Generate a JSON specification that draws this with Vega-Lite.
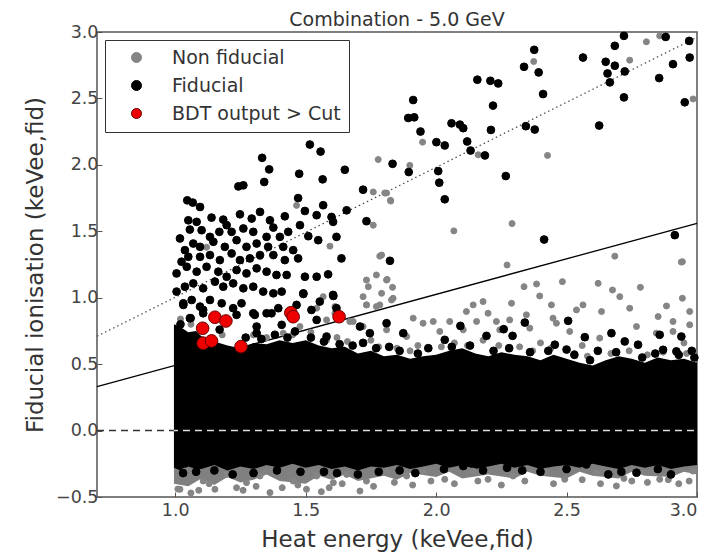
{
  "$schema": "https://vega.github.io/schema/vega-lite/v6.json",
  "width": 600,
  "height": 465,
  "autosize": {"type": "none"},
  "padding": {"left": 97, "top": 32, "right": 18, "bottom": 55},
  "background": "white",
  "title": {"text": "Combination - 5.0 GeV", "fontSize": 19, "font": "DejaVu Sans", "fontWeight": "normal", "color": "#333", "offset": -7},
  "config": {
    "view": {"stroke": "#555", "strokeWidth": 1.5},
    "axis": {"grid": false, "domain": false, "labelFont": "DejaVu Sans", "titleFont": "DejaVu Sans", "labelFontSize": 17.5, "titleFontSize": 23, "labelColor": "#444", "titleColor": "#333", "titleFontWeight": "normal", "tickColor": "#555", "tickSize": -5}
  },
  "datasets": {
    "band": [
      {"x":0.995,"hi":0.80,"lo":-0.28,"k":"F"},{"x":1.02,"hi":0.78,"lo":-0.30,"k":"F"},{"x":1.05,"hi":0.74,"lo":-0.27,"k":"F"},{"x":1.08,"hi":0.75,"lo":-0.29,"k":"F"},{"x":1.10,"hi":0.71,"lo":-0.29,"k":"F"},{"x":1.15,"hi":0.67,"lo":-0.26,"k":"F"},{"x":1.20,"hi":0.64,"lo":-0.30,"k":"F"},{"x":1.25,"hi":0.62,"lo":-0.27,"k":"F"},{"x":1.30,"hi":0.66,"lo":-0.29,"k":"F"},{"x":1.35,"hi":0.65,"lo":-0.26,"k":"F"},{"x":1.40,"hi":0.68,"lo":-0.28,"k":"F"},{"x":1.45,"hi":0.66,"lo":-0.25,"k":"F"},{"x":1.50,"hi":0.68,"lo":-0.28,"k":"F"},{"x":1.55,"hi":0.64,"lo":-0.26,"k":"F"},{"x":1.60,"hi":0.62,"lo":-0.29,"k":"F"},{"x":1.65,"hi":0.63,"lo":-0.27,"k":"F"},{"x":1.70,"hi":0.58,"lo":-0.30,"k":"F"},{"x":1.75,"hi":0.60,"lo":-0.27,"k":"F"},{"x":1.80,"hi":0.56,"lo":-0.28,"k":"F"},{"x":1.85,"hi":0.57,"lo":-0.26,"k":"F"},{"x":1.90,"hi":0.54,"lo":-0.29,"k":"F"},{"x":1.95,"hi":0.56,"lo":-0.27,"k":"F"},{"x":2.00,"hi":0.57,"lo":-0.25,"k":"F"},{"x":2.05,"hi":0.60,"lo":-0.28,"k":"F"},{"x":2.10,"hi":0.62,"lo":-0.26,"k":"F"},{"x":2.15,"hi":0.58,"lo":-0.29,"k":"F"},{"x":2.20,"hi":0.56,"lo":-0.27,"k":"F"},{"x":2.25,"hi":0.59,"lo":-0.25,"k":"F"},{"x":2.30,"hi":0.57,"lo":-0.28,"k":"F"},{"x":2.35,"hi":0.56,"lo":-0.26,"k":"F"},{"x":2.40,"hi":0.53,"lo":-0.29,"k":"F"},{"x":2.45,"hi":0.57,"lo":-0.27,"k":"F"},{"x":2.50,"hi":0.54,"lo":-0.26,"k":"F"},{"x":2.55,"hi":0.51,"lo":-0.28,"k":"F"},{"x":2.60,"hi":0.49,"lo":-0.25,"k":"F"},{"x":2.65,"hi":0.53,"lo":-0.27,"k":"F"},{"x":2.70,"hi":0.56,"lo":-0.29,"k":"F"},{"x":2.75,"hi":0.54,"lo":-0.26,"k":"F"},{"x":2.80,"hi":0.51,"lo":-0.28,"k":"F"},{"x":2.85,"hi":0.55,"lo":-0.26,"k":"F"},{"x":2.90,"hi":0.53,"lo":-0.29,"k":"F"},{"x":2.95,"hi":0.54,"lo":-0.27,"k":"F"},{"x":3.00,"hi":0.51,"lo":-0.26,"k":"F"},
      {"x":0.995,"hi":0.78,"lo":-0.40,"k":"N"},{"x":1.05,"hi":0.72,"lo":-0.42,"k":"N"},{"x":1.10,"hi":0.69,"lo":-0.36,"k":"N"},{"x":1.15,"hi":0.65,"lo":-0.41,"k":"N"},{"x":1.20,"hi":0.62,"lo":-0.35,"k":"N"},{"x":1.25,"hi":0.60,"lo":-0.39,"k":"N"},{"x":1.30,"hi":0.62,"lo":-0.37,"k":"N"},{"x":1.35,"hi":0.62,"lo":-0.33,"k":"N"},{"x":1.40,"hi":0.64,"lo":-0.38,"k":"N"},{"x":1.50,"hi":0.64,"lo":-0.40,"k":"N"},{"x":1.55,"hi":0.62,"lo":-0.34,"k":"N"},{"x":1.60,"hi":0.60,"lo":-0.37,"k":"N"},{"x":1.65,"hi":0.60,"lo":-0.33,"k":"N"},{"x":1.70,"hi":0.56,"lo":-0.38,"k":"N"},{"x":1.80,"hi":0.54,"lo":-0.34,"k":"N"},{"x":1.85,"hi":0.55,"lo":-0.37,"k":"N"},{"x":1.90,"hi":0.52,"lo":-0.32,"k":"N"},{"x":2.00,"hi":0.55,"lo":-0.35,"k":"N"},{"x":2.05,"hi":0.58,"lo":-0.31,"k":"N"},{"x":2.10,"hi":0.60,"lo":-0.36,"k":"N"},{"x":2.20,"hi":0.54,"lo":-0.33,"k":"N"},{"x":2.30,"hi":0.55,"lo":-0.36,"k":"N"},{"x":2.35,"hi":0.54,"lo":-0.31,"k":"N"},{"x":2.40,"hi":0.51,"lo":-0.34,"k":"N"},{"x":2.50,"hi":0.52,"lo":-0.36,"k":"N"},{"x":2.55,"hi":0.49,"lo":-0.31,"k":"N"},{"x":2.60,"hi":0.47,"lo":-0.34,"k":"N"},{"x":2.70,"hi":0.54,"lo":-0.36,"k":"N"},{"x":2.75,"hi":0.52,"lo":-0.31,"k":"N"},{"x":2.80,"hi":0.49,"lo":-0.34,"k":"N"},{"x":2.90,"hi":0.51,"lo":-0.35,"k":"N"},{"x":2.95,"hi":0.52,"lo":-0.31,"k":"N"},{"x":3.00,"hi":0.49,"lo":-0.33,"k":"N"}
    ],
    "lines": [
      {"x":0.7,"y":0.71,"l":"dot"},{"x":3.0,"y":2.96,"l":"dot"},
      {"x":0.7,"y":0.33,"l":"solid"},{"x":3.0,"y":1.56,"l":"solid"},
      {"x":0.7,"y":0,"l":"zk"},{"x":0.995,"y":0,"l":"zk"},
      {"x":0.995,"y":0,"l":"zw"},{"x":3.0,"y":0,"l":"zw"}
    ],
    "pts": [
      {"x":1.778,"y":2.04,"c":"N"},{"x":1.759,"y":1.796,"c":"N"},{"x":1.803,"y":1.788,"c":"N"},{"x":1.826,"y":1.728,"c":"N"},{"x":1.759,"y":1.546,"c":"N"},{"x":1.791,"y":1.321,"c":"N"},{"x":1.771,"y":1.171,"c":"N"},{"x":1.810,"y":1.133,"c":"N"},{"x":1.733,"y":1.133,"c":"N"},{"x":1.740,"y":1.083,"c":"N"},{"x":1.733,"y":0.946,"c":"N"},{"x":1.791,"y":1.033,"c":"N"},{"x":1.829,"y":0.983,"c":"N"},{"x":1.771,"y":0.933,"c":"N"},{"x":1.593,"y":1.388,"c":"N"},{"x":1.580,"y":0.833,"c":"N"},{"x":1.682,"y":0.821,"c":"N"},{"x":1.612,"y":0.883,"c":"N"},{"x":1.12,"y":1.38,"c":"N"},{"x":1.325,"y":1.308,"c":"N"},{"x":1.465,"y":1.695,"c":"N"},
      {"x":2.806,"y":2.926,"c":"N"},{"x":2.857,"y":2.971,"c":"N"},{"x":2.742,"y":2.788,"c":"N"},{"x":2.374,"y":2.778,"c":"N"},{"x":1.948,"y":2.171,"c":"N"},{"x":1.899,"y":1.996,"c":"N"},{"x":2.161,"y":2.076,"c":"N"},{"x":2.427,"y":2.071,"c":"N"},{"x":1.810,"y":1.788,"c":"N"},{"x":1.825,"y":1.733,"c":"N"},{"x":2.068,"y":1.503,"c":"N"},{"x":2.291,"y":1.558,"c":"N"},{"x":2.272,"y":1.246,"c":"N"},{"x":2.685,"y":1.313,"c":"N"},{"x":2.944,"y":1.271,"c":"N"},{"x":1.784,"y":1.313,"c":"N"},{"x":1.812,"y":1.138,"c":"N"},{"x":1.833,"y":1.078,"c":"N"},{"x":2.337,"y":1.083,"c":"N"},{"x":2.385,"y":1.103,"c":"N"},{"x":2.484,"y":1.121,"c":"N"},{"x":2.621,"y":1.108,"c":"N"},{"x":2.676,"y":1.058,"c":"N"},{"x":2.783,"y":1.078,"c":"N"},{"x":2.397,"y":1.013,"c":"N"},{"x":2.704,"y":1.008,"c":"N"},{"x":2.944,"y":0.996,"c":"N"},{"x":2.985,"y":2.496,"c":"N"},
      {"x":2.940,"y":1.268,"c":"N"},{"x":2.142,"y":0.946,"c":"N"},{"x":2.180,"y":0.971,"c":"N"},{"x":2.289,"y":0.958,"c":"N"},{"x":2.442,"y":0.946,"c":"N"},{"x":2.563,"y":0.946,"c":"N"},{"x":2.634,"y":0.896,"c":"N"},{"x":2.742,"y":0.921,"c":"N"},{"x":2.883,"y":0.938,"c":"N"},{"x":2.972,"y":0.896,"c":"N"},{"x":2.116,"y":0.896,"c":"N"},{"x":2.199,"y":0.883,"c":"N"},{"x":2.346,"y":0.871,"c":"N"},{"x":2.538,"y":0.908,"c":"N"},{"x":1.989,"y":0.821,"c":"N"},{"x":2.052,"y":0.821,"c":"N"},{"x":2.155,"y":0.821,"c":"N"},{"x":2.231,"y":0.821,"c":"N"},{"x":2.282,"y":0.833,"c":"N"},{"x":2.448,"y":0.846,"c":"N"},{"x":2.461,"y":0.808,"c":"N"},{"x":2.851,"y":0.858,"c":"N"},{"x":2.908,"y":0.821,"c":"N"},{"x":2.972,"y":0.796,"c":"N"},{"x":2.014,"y":0.746,"c":"N"},{"x":2.104,"y":0.758,"c":"N"},{"x":2.244,"y":0.758,"c":"N"},{"x":2.359,"y":0.771,"c":"N"},{"x":2.512,"y":0.746,"c":"N"},{"x":2.627,"y":0.696,"c":"N"},{"x":2.768,"y":0.783,"c":"N"},{"x":2.844,"y":0.733,"c":"N"},{"x":2.908,"y":0.746,"c":"N"},{"x":2.18,"y":0.68,"c":"N"},{"x":2.40,"y":0.66,"c":"N"},{"x":2.56,"y":0.64,"c":"N"},{"x":2.95,"y":0.66,"c":"N"},
      {"x":1.02,"y":0.84,"c":"N"},{"x":1.06,"y":0.80,"c":"N"},{"x":1.18,"y":0.72,"c":"N"},{"x":1.35,"y":0.70,"c":"N"},{"x":1.45,"y":0.72,"c":"N"},{"x":1.52,"y":0.74,"c":"N"},{"x":1.58,"y":0.68,"c":"N"},{"x":1.66,"y":0.67,"c":"N"},{"x":1.78,"y":0.63,"c":"N"},{"x":1.85,"y":0.62,"c":"N"},{"x":1.90,"y":0.60,"c":"N"},{"x":2.02,"y":0.63,"c":"N"},{"x":2.07,"y":0.66,"c":"N"},{"x":2.12,"y":0.64,"c":"N"},{"x":2.24,"y":0.64,"c":"N"},{"x":2.32,"y":0.63,"c":"N"},{"x":2.37,"y":0.60,"c":"N"},{"x":2.44,"y":0.62,"c":"N"},{"x":2.53,"y":0.58,"c":"N"},{"x":2.58,"y":0.56,"c":"N"},{"x":2.67,"y":0.58,"c":"N"},{"x":2.74,"y":0.60,"c":"N"},{"x":2.81,"y":0.57,"c":"N"},{"x":2.87,"y":0.59,"c":"N"},{"x":2.96,"y":0.58,"c":"N"},
      {"x":2.199,"y":-0.367,"c":"N"},{"x":2.493,"y":-0.367,"c":"N"},{"x":2.691,"y":-0.417,"c":"N"},{"x":2.857,"y":-0.367,"c":"N"},{"x":2.033,"y":-0.367,"c":"N"},{"x":2.295,"y":-0.342,"c":"N"},{"x":2.614,"y":-0.317,"c":"N"},{"x":2.985,"y":-0.305,"c":"N"},{"x":2.142,"y":-0.305,"c":"N"},{"x":2.423,"y":-0.305,"c":"N"},{"x":2.75,"y":-0.38,"c":"N"},{"x":2.93,"y":-0.40,"c":"N"},
      {"x":1.037,"y":-0.305,"c":"N"},{"x":1.107,"y":-0.380,"c":"N"},{"x":1.197,"y":-0.330,"c":"N"},{"x":1.273,"y":-0.392,"c":"N"},{"x":1.325,"y":-0.342,"c":"N"},{"x":1.382,"y":-0.305,"c":"N"},{"x":1.452,"y":-0.380,"c":"N"},{"x":1.503,"y":-0.442,"c":"N"},{"x":1.542,"y":-0.342,"c":"N"},{"x":1.606,"y":-0.392,"c":"N"},{"x":1.657,"y":-0.330,"c":"N"},{"x":1.733,"y":-0.380,"c":"N"},{"x":1.810,"y":-0.305,"c":"N"},{"x":1.887,"y":-0.342,"c":"N"},{"x":1.950,"y":-0.305,"c":"N"},{"x":1.018,"y":-0.442,"c":"N"},{"x":1.363,"y":-0.467,"c":"N"},{"x":1.708,"y":-0.455,"c":"N"},{"x":1.152,"y":-0.442,"c":"N"},{"x":1.235,"y":-0.430,"c":"N"},{"x":1.06,"y":-0.47,"c":"N"},{"x":1.56,"y":-0.46,"c":"N"},
      {"x":1.01,"y":-0.44,"c":"N"},{"x":1.09,"y":-0.45,"c":"N"},{"x":1.13,"y":-0.40,"c":"N"},{"x":1.26,"y":-0.45,"c":"N"},{"x":1.31,"y":-0.42,"c":"N"},{"x":1.41,"y":-0.43,"c":"N"},{"x":1.47,"y":-0.41,"c":"N"},{"x":1.59,"y":-0.43,"c":"N"},{"x":1.64,"y":-0.40,"c":"N"},{"x":1.76,"y":-0.42,"c":"N"},{"x":1.84,"y":-0.39,"c":"N"},{"x":1.91,"y":-0.41,"c":"N"},{"x":1.98,"y":-0.38,"c":"N"},{"x":2.07,"y":-0.40,"c":"N"},{"x":2.16,"y":-0.38,"c":"N"},{"x":2.25,"y":-0.41,"c":"N"},{"x":2.34,"y":-0.38,"c":"N"},{"x":2.45,"y":-0.40,"c":"N"},{"x":2.56,"y":-0.37,"c":"N"},{"x":2.63,"y":-0.40,"c":"N"},{"x":2.72,"y":-0.36,"c":"N"},{"x":2.81,"y":-0.39,"c":"N"},{"x":2.89,"y":-0.37,"c":"N"},{"x":2.97,"y":-0.38,"c":"N"},
      {"x":1.567,"y":1.008,"c":"N"},{"x":1.606,"y":1.020,"c":"N"},{"x":1.720,"y":1.008,"c":"N"},{"x":1.784,"y":0.946,"c":"N"},{"x":1.835,"y":0.996,"c":"N"},{"x":1.733,"y":0.946,"c":"N"},{"x":1.542,"y":0.921,"c":"N"},{"x":1.612,"y":0.933,"c":"N"},{"x":1.669,"y":0.821,"c":"N"},{"x":1.912,"y":0.846,"c":"N"},{"x":1.950,"y":0.808,"c":"N"},{"x":1.720,"y":0.783,"c":"N"},{"x":1.810,"y":0.758,"c":"N"},{"x":1.478,"y":0.783,"c":"N"},{"x":1.414,"y":0.733,"c":"N"},{"x":1.887,"y":0.708,"c":"N"},{"x":1.350,"y":0.883,"c":"N"},{"x":1.62,"y":0.70,"c":"N"},{"x":1.75,"y":0.68,"c":"N"},{"x":1.93,"y":0.64,"c":"N"},{"x":1.30,"y":0.72,"c":"N"},
      {"x":1.516,"y":2.153,"c":"F"},{"x":1.557,"y":2.10,"c":"F"},{"x":1.333,"y":2.053,"c":"F"},{"x":1.360,"y":1.966,"c":"F"},{"x":1.475,"y":1.933,"c":"F"},{"x":1.341,"y":1.871,"c":"F"},{"x":1.565,"y":1.891,"c":"F"},{"x":1.650,"y":1.963,"c":"F"},{"x":1.833,"y":2.008,"c":"F"},{"x":1.261,"y":1.846,"c":"F"},{"x":1.242,"y":1.838,"c":"F"},{"x":1.720,"y":1.813,"c":"F"},{"x":1.471,"y":1.750,"c":"F"},{"x":1.046,"y":1.733,"c":"F"},{"x":1.067,"y":1.716,"c":"F"},{"x":1.095,"y":1.683,"c":"F"},{"x":1.657,"y":1.658,"c":"F"},{"x":1.567,"y":1.696,"c":"F"},{"x":1.497,"y":1.653,"c":"F"},{"x":1.420,"y":1.613,"c":"F"},{"x":1.542,"y":1.621,"c":"F"},{"x":1.599,"y":1.608,"c":"F"},{"x":1.605,"y":1.571,"c":"F"},{"x":1.733,"y":1.576,"c":"F"},{"x":1.050,"y":1.583,"c":"F"},{"x":1.082,"y":1.571,"c":"F"},{"x":1.139,"y":1.603,"c":"F"},{"x":1.184,"y":1.588,"c":"F"},{"x":1.197,"y":1.546,"c":"F"},{"x":1.248,"y":1.628,"c":"F"},{"x":1.293,"y":1.596,"c":"F"},{"x":1.325,"y":1.646,"c":"F"},{"x":1.363,"y":1.583,"c":"F"},{"x":1.376,"y":1.528,"c":"F"},{"x":1.478,"y":1.546,"c":"F"},
      {"x":1.018,"y":1.446,"c":"F"},{"x":1.056,"y":1.513,"c":"F"},{"x":1.101,"y":1.508,"c":"F"},{"x":1.133,"y":1.458,"c":"F"},{"x":1.169,"y":1.496,"c":"F"},{"x":1.216,"y":1.496,"c":"F"},{"x":1.261,"y":1.521,"c":"F"},{"x":1.299,"y":1.496,"c":"F"},{"x":1.350,"y":1.458,"c":"F"},{"x":1.401,"y":1.458,"c":"F"},{"x":1.433,"y":1.496,"c":"F"},{"x":1.510,"y":1.463,"c":"F"},{"x":1.548,"y":1.433,"c":"F"},{"x":1.618,"y":1.458,"c":"F"},{"x":1.037,"y":1.358,"c":"F"},{"x":1.069,"y":1.408,"c":"F"},{"x":1.095,"y":1.383,"c":"F"},{"x":1.146,"y":1.421,"c":"F"},{"x":1.190,"y":1.383,"c":"F"},{"x":1.235,"y":1.433,"c":"F"},{"x":1.273,"y":1.383,"c":"F"},{"x":1.312,"y":1.408,"c":"F"},{"x":1.356,"y":1.383,"c":"F"},{"x":1.414,"y":1.383,"c":"F"},{"x":1.452,"y":1.358,"c":"F"},
      {"x":1.024,"y":1.271,"c":"F"},{"x":1.050,"y":1.308,"c":"F"},{"x":1.095,"y":1.308,"c":"F"},{"x":1.133,"y":1.321,"c":"F"},{"x":1.171,"y":1.283,"c":"F"},{"x":1.216,"y":1.333,"c":"F"},{"x":1.248,"y":1.283,"c":"F"},{"x":1.286,"y":1.296,"c":"F"},{"x":1.325,"y":1.321,"c":"F"},{"x":1.376,"y":1.321,"c":"F"},{"x":1.420,"y":1.283,"c":"F"},{"x":1.471,"y":1.296,"c":"F"},{"x":1.005,"y":1.183,"c":"F"},{"x":1.044,"y":1.233,"c":"F"},{"x":1.082,"y":1.196,"c":"F"},{"x":1.120,"y":1.233,"c":"F"},{"x":1.165,"y":1.196,"c":"F"},{"x":1.197,"y":1.158,"c":"F"},{"x":1.235,"y":1.208,"c":"F"},{"x":1.273,"y":1.183,"c":"F"},{"x":1.312,"y":1.221,"c":"F"},{"x":1.350,"y":1.196,"c":"F"},{"x":1.388,"y":1.171,"c":"F"},{"x":1.427,"y":1.171,"c":"F"},{"x":1.497,"y":1.158,"c":"F"},{"x":1.542,"y":1.158,"c":"F"},{"x":1.586,"y":1.176,"c":"F"},{"x":1.637,"y":1.296,"c":"F"},{"x":1.823,"y":1.278,"c":"F"},
      {"x":1.005,"y":1.046,"c":"F"},{"x":1.037,"y":1.083,"c":"F"},{"x":1.069,"y":1.108,"c":"F"},{"x":1.107,"y":1.071,"c":"F"},{"x":1.152,"y":1.121,"c":"F"},{"x":1.184,"y":1.083,"c":"F"},{"x":1.222,"y":1.108,"c":"F"},{"x":1.261,"y":1.071,"c":"F"},{"x":1.299,"y":1.083,"c":"F"},{"x":1.337,"y":1.046,"c":"F"},{"x":1.376,"y":1.033,"c":"F"},{"x":1.408,"y":1.046,"c":"F"},{"x":1.491,"y":1.033,"c":"F"},{"x":1.554,"y":0.971,"c":"F"},{"x":1.605,"y":1.021,"c":"F"},{"x":1.031,"y":0.958,"c":"F"},{"x":1.063,"y":0.983,"c":"F"},{"x":1.095,"y":0.933,"c":"F"},{"x":1.133,"y":0.983,"c":"F"},{"x":1.178,"y":0.958,"c":"F"},{"x":1.222,"y":0.921,"c":"F"},{"x":1.254,"y":0.958,"c":"F"},{"x":1.299,"y":0.883,"c":"F"},{"x":1.350,"y":0.883,"c":"F"},{"x":1.395,"y":0.921,"c":"F"},{"x":1.465,"y":0.946,"c":"F"},{"x":1.522,"y":0.908,"c":"F"},{"x":1.618,"y":0.921,"c":"F"},{"x":1.056,"y":0.846,"c":"F"},{"x":1.107,"y":0.883,"c":"F"},{"x":1.235,"y":0.871,"c":"F"},{"x":1.312,"y":0.783,"c":"F"},{"x":1.408,"y":0.796,"c":"F"},
      {"x":2.720,"y":2.971,"c":"F"},{"x":2.685,"y":2.896,"c":"F"},{"x":2.880,"y":2.963,"c":"F"},{"x":2.970,"y":2.933,"c":"F"},{"x":2.972,"y":2.808,"c":"F"},{"x":2.908,"y":2.758,"c":"F"},{"x":2.855,"y":2.653,"c":"F"},{"x":2.953,"y":2.471,"c":"F"},{"x":2.563,"y":2.808,"c":"F"},{"x":2.650,"y":2.776,"c":"F"},{"x":2.685,"y":2.746,"c":"F"},{"x":2.723,"y":2.703,"c":"F"},{"x":2.657,"y":2.688,"c":"F"},{"x":2.666,"y":2.621,"c":"F"},{"x":2.720,"y":2.508,"c":"F"},{"x":2.625,"y":2.296,"c":"F"},{"x":2.376,"y":2.866,"c":"F"},{"x":2.337,"y":2.738,"c":"F"},{"x":2.393,"y":2.696,"c":"F"},{"x":2.410,"y":2.533,"c":"F"},{"x":2.344,"y":2.291,"c":"F"},{"x":2.378,"y":2.266,"c":"F"},{"x":2.158,"y":2.641,"c":"F"},{"x":2.208,"y":2.633,"c":"F"},{"x":2.238,"y":2.613,"c":"F"},{"x":2.218,"y":2.446,"c":"F"},{"x":2.210,"y":2.263,"c":"F"},{"x":2.059,"y":2.313,"c":"F"},{"x":2.091,"y":2.303,"c":"F"},{"x":2.104,"y":2.276,"c":"F"},{"x":2.119,"y":2.176,"c":"F"},{"x":2.132,"y":2.108,"c":"F"},{"x":2.187,"y":2.071,"c":"F"},{"x":2.267,"y":1.916,"c":"F"},{"x":2.414,"y":1.438,"c":"F"},{"x":2.915,"y":1.471,"c":"F"},{"x":1.912,"y":2.488,"c":"F"},{"x":1.893,"y":2.353,"c":"F"},{"x":1.916,"y":2.358,"c":"F"},{"x":1.940,"y":2.251,"c":"F"},{"x":2.001,"y":2.171,"c":"F"},{"x":2.033,"y":2.146,"c":"F"},{"x":1.895,"y":1.946,"c":"F"},{"x":2.008,"y":1.953,"c":"F"},{"x":2.012,"y":1.866,"c":"F"},{"x":2.033,"y":1.741,"c":"F"},
      {"x":2.093,"y":0.788,"c":"F"},{"x":2.259,"y":0.763,"c":"F"},{"x":2.340,"y":0.813,"c":"F"},{"x":2.506,"y":0.826,"c":"F"},{"x":2.672,"y":0.733,"c":"F"},{"x":2.857,"y":0.721,"c":"F"},{"x":2.940,"y":0.708,"c":"F"},{"x":2.570,"y":0.703,"c":"F"},{"x":2.193,"y":0.713,"c":"F"},{"x":2.293,"y":0.713,"c":"F"},{"x":2.455,"y":0.646,"c":"F"},{"x":2.723,"y":0.671,"c":"F"},{"x":2.774,"y":0.646,"c":"F"},{"x":2.033,"y":0.683,"c":"F"},{"x":2.870,"y":0.608,"c":"F"},{"x":2.921,"y":0.596,"c":"F"},{"x":2.62,"y":0.60,"c":"F"},{"x":2.50,"y":0.61,"c":"F"},{"x":2.98,"y":0.60,"c":"F"},{"x":1.97,"y":0.62,"c":"F"},{"x":1.82,"y":0.63,"c":"F"},{"x":1.72,"y":0.66,"c":"F"},
      {"x":1.33,"y":0.69,"c":"F"},{"x":1.43,"y":0.70,"c":"F"},{"x":1.52,"y":0.70,"c":"F"},{"x":1.57,"y":0.67,"c":"F"},{"x":1.63,"y":0.65,"c":"F"},{"x":1.68,"y":0.64,"c":"F"},{"x":1.77,"y":0.62,"c":"F"},{"x":1.86,"y":0.60,"c":"F"},{"x":1.93,"y":0.58,"c":"F"},{"x":2.06,"y":0.63,"c":"F"},{"x":2.13,"y":0.64,"c":"F"},{"x":2.22,"y":0.60,"c":"F"},{"x":2.28,"y":0.62,"c":"F"},{"x":2.36,"y":0.59,"c":"F"},{"x":2.43,"y":0.60,"c":"F"},{"x":2.53,"y":0.57,"c":"F"},{"x":2.59,"y":0.53,"c":"F"},{"x":2.69,"y":0.59,"c":"F"},{"x":2.79,"y":0.55,"c":"F"},{"x":2.84,"y":0.58,"c":"F"},{"x":2.93,"y":0.57,"c":"F"},{"x":2.99,"y":0.55,"c":"F"},
      {"x":1.491,"y":1.028,"c":"F"},{"x":1.606,"y":1.013,"c":"F"},{"x":1.031,"y":0.946,"c":"F"},{"x":1.107,"y":0.908,"c":"F"},{"x":1.305,"y":0.871,"c":"F"},{"x":1.369,"y":0.883,"c":"F"},{"x":1.059,"y":0.846,"c":"F"},{"x":1.542,"y":0.833,"c":"F"},{"x":1.312,"y":0.733,"c":"F"},{"x":1.382,"y":0.721,"c":"F"},{"x":1.459,"y":0.746,"c":"F"},{"x":1.580,"y":0.708,"c":"F"},{"x":1.708,"y":0.783,"c":"F"},{"x":1.810,"y":0.808,"c":"F"},{"x":1.746,"y":0.733,"c":"F"},{"x":1.874,"y":0.733,"c":"F"},{"x":1.02,"y":0.80,"c":"F"},{"x":1.17,"y":0.76,"c":"F"},{"x":1.27,"y":0.70,"c":"F"},
      {"x":2.768,"y":-0.317,"c":"F"},{"x":2.272,"y":-0.280,"c":"F"},{"x":2.576,"y":-0.255,"c":"F"},{"x":2.104,"y":-0.267,"c":"F"},{"x":2.806,"y":-0.242,"c":"F"},{"x":2.972,"y":-0.230,"c":"F"},{"x":1.03,"y":-0.32,"c":"F"},{"x":1.22,"y":-0.33,"c":"F"},{"x":1.48,"y":-0.31,"c":"F"},{"x":1.70,"y":-0.33,"c":"F"},{"x":1.92,"y":-0.32,"c":"F"},{"x":2.40,"y":-0.31,"c":"F"},{"x":2.66,"y":-0.33,"c":"F"},{"x":2.90,"y":-0.33,"c":"F"},
      {"x":1.08,"y":-0.31,"c":"F"},{"x":1.15,"y":-0.30,"c":"F"},{"x":1.30,"y":-0.32,"c":"F"},{"x":1.39,"y":-0.30,"c":"F"},{"x":1.57,"y":-0.31,"c":"F"},{"x":1.62,"y":-0.32,"c":"F"},{"x":1.78,"y":-0.31,"c":"F"},{"x":1.86,"y":-0.30,"c":"F"},{"x":2.03,"y":-0.29,"c":"F"},{"x":2.18,"y":-0.30,"c":"F"},{"x":2.33,"y":-0.30,"c":"F"},{"x":2.50,"y":-0.29,"c":"F"},{"x":2.71,"y":-0.31,"c":"F"},{"x":2.85,"y":-0.29,"c":"F"},
      {"x":1.105,"y":0.77,"c":"B"},{"x":1.152,"y":0.853,"c":"B"},{"x":1.194,"y":0.825,"c":"B"},{"x":1.107,"y":0.658,"c":"B"},{"x":1.139,"y":0.675,"c":"B"},{"x":1.252,"y":0.632,"c":"B"},{"x":1.443,"y":0.887,"c":"B"},{"x":1.452,"y":0.857,"c":"B"},{"x":1.628,"y":0.857,"c":"B"}
    ]
  },
  "layer": [
    {
      "data": {"name": "lines"},
      "transform": [{"filter": "datum.l == 'dot'"}],
      "mark": {"type": "line", "color": "#444", "strokeWidth": 1.2, "strokeDash": [1.5, 3]},
      "encoding": {
        "x": {"field": "x", "type": "quantitative", "scale": {"domain": [0.7, 3.0], "nice": false, "zero": false}, "axis": {"title": "Heat energy (keVee,fid)", "values": [1.0, 1.5, 2.0, 2.5, 3.0], "format": ".1f", "labelPadding": 9, "titlePadding": 10}},
        "y": {"field": "y", "type": "quantitative", "scale": {"domain": [-0.5, 3.0], "nice": false, "zero": false}, "axis": {"title": "Fiducial ionisation (keVee,fid)", "values": [-0.5, 0.0, 0.5, 1.0, 1.5, 2.0, 2.5, 3.0], "format": ".1f", "labelPadding": 4, "titlePadding": 8}}
      }
    },
    {
      "data": {"name": "lines"},
      "transform": [{"filter": "datum.l == 'solid'"}],
      "mark": {"type": "line", "color": "#000", "strokeWidth": 1.3},
      "encoding": {"x": {"field": "x", "type": "quantitative"}, "y": {"field": "y", "type": "quantitative"}}
    },
    {
      "data": {"name": "band"},
      "transform": [{"filter": "datum.k == 'N'"}],
      "mark": {"type": "area", "color": "#808080", "opacity": 1},
      "encoding": {"x": {"field": "x", "type": "quantitative"}, "y": {"field": "hi", "type": "quantitative"}, "y2": {"field": "lo"}}
    },
    {
      "data": {"name": "band"},
      "transform": [{"filter": "datum.k == 'F'"}],
      "mark": {"type": "area", "color": "#000000", "opacity": 1},
      "encoding": {"x": {"field": "x", "type": "quantitative"}, "y": {"field": "hi", "type": "quantitative"}, "y2": {"field": "lo"}}
    },
    {
      "data": {"name": "pts"},
      "mark": {"type": "point", "filled": true, "opacity": 1, "strokeWidth": 1},
      "encoding": {
        "x": {"field": "x", "type": "quantitative"},
        "y": {"field": "y", "type": "quantitative"},
        "color": {"field": "c", "type": "nominal", "scale": {"domain": ["N", "F", "B"], "range": ["#858585", "#000000", "#ee0000"]},
          "legend": {"title": null, "orient": "top-left", "offset": 8, "labelExpr": "datum.label == 'N' ? 'Non fiducial' : datum.label == 'F' ? 'Fiducial' : 'BDT output > Cut'", "labelFont": "DejaVu Sans", "labelFontSize": 19, "labelColor": "#333", "labelLimit": 400, "strokeColor": "#333", "fillColor": "white", "padding": 8, "rowPadding": 8, "labelOffset": 26, "symbolOffset": 14, "symbolStrokeWidth": 1,
            "encode": {"symbols": {"update": {"size": {"signal": "datum.value === 'B' ? 170 : datum.value === 'F' ? 64 : 38"}}}}}},
        "stroke": {"field": "c", "type": "nominal", "scale": {"domain": ["N", "F", "B"], "range": ["#858585", "#000000", "#6a0000"]}},
        "size": {"condition": [{"test": "datum.c == 'B'", "value": 160}, {"test": "datum.c == 'F'", "value": 60}], "value": 36}
      }
    },
    {
      "data": {"name": "lines"},
      "transform": [{"filter": "datum.l == 'zk'"}],
      "mark": {"type": "line", "color": "#333", "strokeWidth": 1.5, "strokeDash": [7, 5]},
      "encoding": {"x": {"field": "x", "type": "quantitative"}, "y": {"field": "y", "type": "quantitative"}}
    },
    {
      "data": {"name": "lines"},
      "transform": [{"filter": "datum.l == 'zw'"}],
      "mark": {"type": "line", "color": "#dddddd", "strokeWidth": 1.5, "strokeDash": [7, 5], "strokeDashOffset": 3},
      "encoding": {"x": {"field": "x", "type": "quantitative"}, "y": {"field": "y", "type": "quantitative"}}
    }
  ]
}
